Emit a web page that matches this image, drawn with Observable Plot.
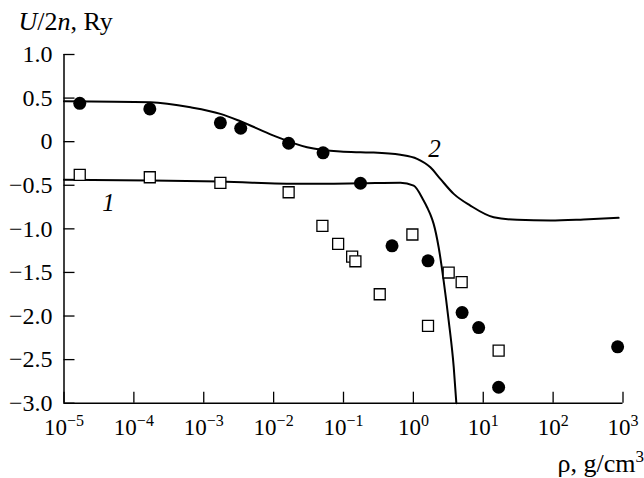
<!DOCTYPE html>
<html>
<head>
<meta charset="utf-8">
<script src="https://cdn.jsdelivr.net/npm/d3@7"></script>
<script src="https://cdn.jsdelivr.net/npm/@observablehq/plot@0.6"></script>
<style>
  html, body { margin: 0; padding: 0; background: #fff; }
  #chart { width: 644px; height: 478px; }
  #chart svg, #chart svg text, #chart svg tspan { font-family: "Liberation Serif", "Times New Roman", serif !important; }
</style>
</head>
<body>
<div id="chart"></div>
<script>
// ---- data ----
// filled circles
const rhoFilled = [1.68e-5, 1.69e-4, 1.73e-3, 3.38e-3, 1.64e-2, 5.1e-2, 0.175, 0.495, 1.62, 4.98, 8.59, 16.6, 838];
const uFilled   = [0.44, 0.376, 0.216, 0.154, -0.018, -0.128, -0.477, -1.195, -1.367, -1.96, -2.132, -2.817, -2.353];
// open squares
const rhoOpen = [1.68e-5, 1.69e-4, 1.73e-3, 1.64e-2, 4.99e-2, 8.38e-2, 0.133, 0.148, 0.33, 0.968, 1.62, 3.2, 4.91, 16.6];
const uOpen   = [-0.381, -0.408, -0.472, -0.58, -0.966, -1.172, -1.318, -1.372, -1.75, -1.065, -2.112, -1.501, -1.612, -2.396];
// curve 1
const rhoCurve1 = [1e-5, 1.73e-4, 1.73e-3, 2.42e-2, 0.175, 0.652, 1.01, 1.40, 1.57, 1.85, 1.95, 2.30, 2.71, 3.20, 3.78, 4.12];
const uCurve1   = [-0.438, -0.446, -0.458, -0.484, -0.477, -0.470, -0.504, -0.675, -0.752, -0.885, -0.943, -1.211, -1.593, -2.052, -2.587, -3.0];
// curve 2
const rhoCurve2 = [1e-5, 1.73e-4, 6.46e-4, 1.73e-3, 3.35e-3, 1.0e-2, 3.01e-2, 9.04e-2, 0.175, 0.27, 0.652, 1.13, 1.75, 2.43, 3.78, 6.53, 14.1, 30.5, 91.2, 273, 865];
const uCurve2   = [0.463, 0.452, 0.394, 0.319, 0.234, 0.070, -0.064, -0.114, -0.122, -0.125, -0.151, -0.197, -0.294, -0.427, -0.599, -0.733, -0.867, -0.897, -0.905, -0.893, -0.874];
// curve labels
const curveLabels = ["1", "2"];
const curveLabelRho = [4.33e-5, 2.0];
const curveLabelU = [-0.80, -0.18];
// ticks
const xTicks = [1e-5, 1e-4, 1e-3, 1e-2, 1e-1, 1e0, 1e1, 1e2, 1e3];
const xTickExp = ["−5", "−4", "−3", "−2", "−1", "0", "1", "2", "3"];
const yTicks = [1.0, 0.5, 0, -0.5, -1.0, -1.5, -2.0, -2.5, -3.0];
const yTickLabels = ["1.0", "0.5", "0", "−0.5", "−1.0", "−1.5", "−2.0", "−2.5", "−3.0"];
const yTitle = "U/2n, Ry";
const xTitle = "ρ, g/cm3";

// ---- tables ----
const filled = rhoFilled.map((r, i) => ({rho: r, u: uFilled[i]}));
const open = rhoOpen.map((r, i) => ({rho: r, u: uOpen[i]}));
const curve1 = rhoCurve1.map((r, i) => ({rho: r, u: uCurve1[i]}));
const curve2 = rhoCurve2.map((r, i) => ({rho: r, u: uCurve2[i]}));
const labels = curveLabels.map((t, i) => ({t, rho: curveLabelRho[i], u: curveLabelU[i]}));

const W = 644, H = 478;
const mL = 63.5, mR = 21.5, mT = 54, mB = 75.3;
const frameW = W - mL - mR, frameH = H - mT - mB;
const FF = "Liberation Serif";

const chart = Plot.plot({
  width: W, height: H,
  marginLeft: mL, marginRight: mR, marginTop: mT, marginBottom: mB,
  x: {type: "log", domain: [1e-5, 1e3]},
  y: {domain: [-3, 1]},
  style: {fontFamily: FF, fontSize: "23px", color: "black", background: "white", overflow: "visible"},
  marks: [
    Plot.axisX(xTicks, {tickSize: 0, tickPadding: 15, fontSize: 23, fontFamily: FF, label: null,
      tickFormat: d => "10^" + xTickExp[xTicks.indexOf(d)]}),
    Plot.axisY(yTicks, {tickSize: 0, tickPadding: 11.5, fontSize: 24, fontFamily: FF, label: null,
      tickFormat: d => yTickLabels[yTicks.indexOf(d)]}),
    Plot.tickX(xTicks, {x: d => d, insetTop: frameH - 11, stroke: "black", strokeWidth: 1.3}),
    Plot.tickY(yTicks, {y: d => d, insetRight: frameW - 11, stroke: "black", strokeWidth: 1.3}),
    Plot.ruleX([1e-5], {stroke: "black", strokeWidth: 1.5}),
    Plot.ruleY([-3], {stroke: "black", strokeWidth: 1.5}),
    Plot.line(curve1, {x: "rho", y: "u", curve: "monotone-x", stroke: "black", strokeWidth: 2}),
    Plot.line(curve2, {x: "rho", y: "u", curve: "monotone-x", stroke: "black", strokeWidth: 2}),
    Plot.dot(open, {x: "rho", y: "u", symbol: "square", r: 6.2, fill: "white", stroke: "black", strokeWidth: 1.3}),
    Plot.dot(filled, {x: "rho", y: "u", r: 6.5, fill: "black", stroke: "none"}),
    Plot.text(labels, {x: "rho", y: "u", text: "t", fontSize: 25, fontFamily: FF, fontStyle: "italic", lineAnchor: "bottom", fill: "black"}),
    Plot.text([yTitle], {frameAnchor: "top-left", dx: 18 - mL, dy: 29 - mT, textAnchor: "start", lineAnchor: "bottom", fontSize: 26, fontFamily: FF, fill: "black"}),
    Plot.text([xTitle], {frameAnchor: "bottom-right", dx: 21, dy: 69, textAnchor: "end", lineAnchor: "bottom", fontSize: 26, fontFamily: FF, fill: "black"})
  ]
});
document.getElementById("chart").appendChild(chart);

// ---- rich text (superscripts, italics) ----
const svg = d3.select(chart);
svg.selectAll('g[aria-label="x-axis tick label"] text').each(function() {
  const s = d3.select(this);
  const [base, exp] = s.text().split("^");
  s.text(null);
  s.append("tspan").text(base);
  s.append("tspan").attr("dy", "-9").attr("font-size", "16").text(exp);
});
svg.selectAll("text").each(function() {
  const s = d3.select(this);
  const t = s.text();
  if (t === yTitle) {
    s.text(null);
    s.append("tspan").attr("font-style", "italic").text("U");
    s.append("tspan").text("/2");
    s.append("tspan").attr("font-style", "italic").text("n");
    s.append("tspan").text(", Ry");
  } else if (t === xTitle) {
    s.text(null);
    s.append("tspan").text("ρ, g/cm");
    s.append("tspan").attr("dy", "-10").attr("font-size", "17").text("3");
  }
});
</script>
</body>
</html>
